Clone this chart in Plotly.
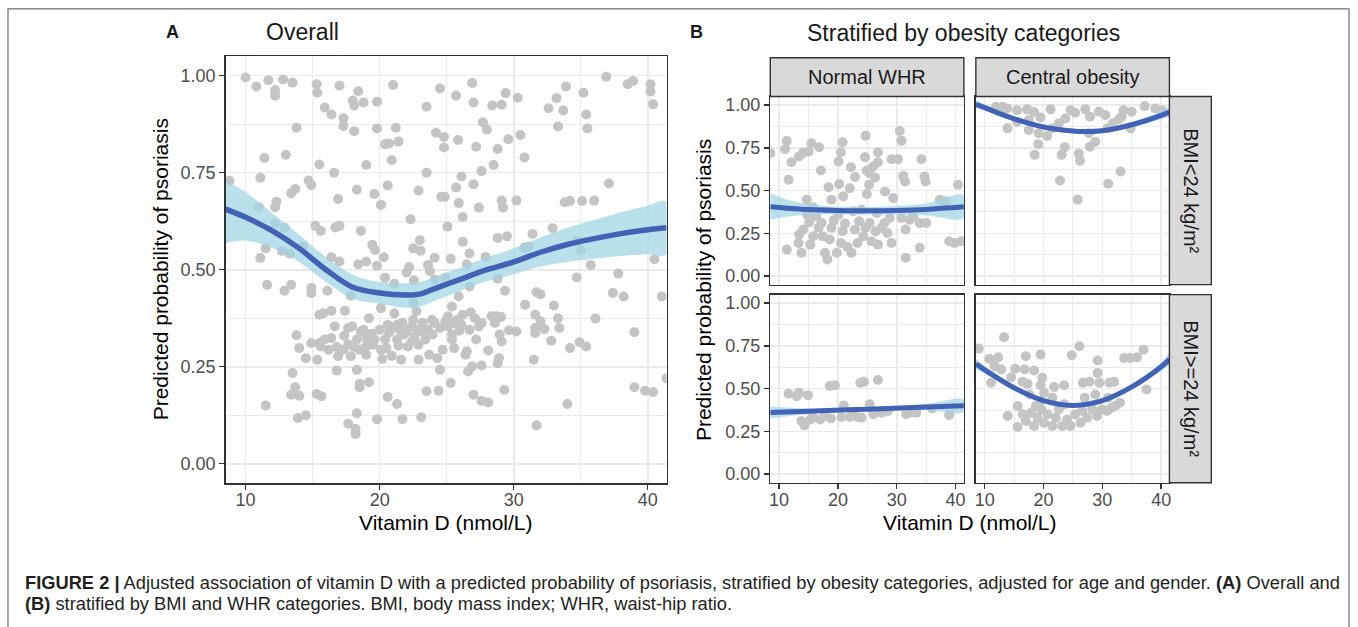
import plotly.graph_objects as go

# ---------------- DATA ----------------
# Panel A: overall (vitamin D nmol/L, predicted probability)
overall_points = [
    (10.0,0.995),(10.8,0.972),(11.7,0.988),(12.2,0.963),(12.2,0.948),(12.8,0.99),(13.5,0.982),(15.3,0.978),
    (15.35,0.956),(17.0,0.974),(18.4,0.96),(18.0,0.936),(18.1,0.923),(18.8,0.931),(19.8,0.933),(21.0,0.976),
    (15.9,0.918),(16.4,0.90),(17.3,0.89),(17.3,0.87),(18.1,0.857),(13.8,0.866),(19.8,0.864),(21.2,0.866),
    (20.4,0.823),(20.7,0.825),(21.4,0.83),(20.9,0.782),(23.5,0.92),(24.5,0.967),(25.7,0.949),(26.9,0.981),
    (27.0,0.931),(28.4,0.923),(29.1,0.925),(29.4,0.955),(30.3,0.943),(27.7,0.88),(28.0,0.861),(24.2,0.853),
    (24.8,0.842),(24.8,0.815),(25.85,0.834),(27.2,0.817),(28.8,0.811),(29.6,0.836),(30.5,0.847),(30.8,0.789),
    (32.6,0.916),(33.2,0.942),(33.7,0.91),(33.9,0.972),(33.3,0.869),(35.2,0.956),(35.4,0.90),(35.5,0.864),
    (36.9,0.997),(38.5,0.978),(38.9,0.986),(40.2,0.978),(40.2,0.959),(40.4,0.926),(11.4,0.788),(13.0,0.796),
    (11.1,0.737),(8.8,0.729),(15.5,0.771),(16.6,0.75),(19.0,0.77),(23.5,0.75),(28.5,0.77),(27.6,0.754),
    (26.1,0.74),(25.7,0.712),(27.0,0.72),(14.7,0.73),(14.9,0.718),(13.7,0.708),(13.4,0.697),(12.3,0.675),
    (12.2,0.661),(11.0,0.661),(16.9,0.682),(18.3,0.706),(19.6,0.695),(20.6,0.717),(20.1,0.667),(22.9,0.704),
    (24.6,0.688),(24.85,0.688),(25.9,0.672),(27.4,0.66),(26.2,0.636),(29.1,0.678),(29.2,0.66),(30.2,0.678),
    (33.8,0.674),(34.2,0.677),(35.1,0.677),(36.0,0.678),(37.1,0.722),(22.3,0.63),(15.2,0.613),(15.6,0.60),
    (12.2,0.62),(12.9,0.608),(16.7,0.609),(17.0,0.613),(18.6,0.60),(25.05,0.611),(28.8,0.582),(29.5,0.586),
    (31.4,0.592),(32.9,0.607),(11.5,0.555),(11.1,0.53),(12.7,0.548),(13.3,0.541),(14.3,0.56),(19.45,0.564),
    (19.65,0.551),(20.3,0.532),(22.5,0.555),(23.0,0.576),(23.05,0.549),(16.4,0.532),(17.0,0.521),(18.4,0.514),
    (19.0,0.521),(19.8,0.51),(22.2,0.507),(23.6,0.512),(24.1,0.531),(25.3,0.528),(26.2,0.572),(26.5,0.514),
    (26.7,0.542),(27.9,0.533),(30.8,0.557),(31.1,0.559),(34.75,0.574),(35.0,0.55),(35.75,0.512),(40.5,0.527),
    (11.6,0.461),(12.9,0.446),(13.4,0.461),(14.9,0.453),(14.9,0.44),(16.1,0.446),(17.85,0.433),(20.4,0.479),
    (21.1,0.464),(22.0,0.493),(22.55,0.473),(23.75,0.496),(24.1,0.474),(24.9,0.479),(25.9,0.431),(26.7,0.457),
    (28.8,0.477),(29.35,0.446),(20.1,0.401),(21.1,0.387),(22.5,0.414),(22.75,0.393),(19.2,0.375),(15.5,0.384),
    (15.8,0.388),(16.4,0.394),(17.4,0.394),(16.65,0.354),(17.95,0.354),(18.6,0.341),(13.8,0.331),(14.0,0.298),
    (14.5,0.272),(14.9,0.311),(15.35,0.268),(15.6,0.302),(15.9,0.32),(16.4,0.324),(16.8,0.301),(16.9,0.277),
    (17.35,0.33),(17.65,0.307),(17.85,0.277),(18.1,0.301),(18.5,0.294),(19.0,0.281),(19.1,0.315),(19.4,0.335),
    (19.5,0.307),(20.0,0.345),(20.2,0.27),(20.5,0.298),(20.7,0.338),(20.9,0.278),(21.3,0.32),(21.4,0.304),
    (21.6,0.268),(21.7,0.363),(21.8,0.333),(22.1,0.302),(22.4,0.354),(22.5,0.371),(22.9,0.268),(22.9,0.307),
    (23.1,0.341),(23.2,0.363),(23.6,0.345),(23.7,0.281),(23.95,0.333),(24.1,0.363),(24.3,0.272),(24.5,0.242),
    (24.7,0.294),(24.9,0.367),(25.1,0.354),(25.4,0.32),(25.4,0.405),(25.55,0.298),(25.8,0.371),(25.95,0.343),
    (26.2,0.384),(26.4,0.281),(26.5,0.29),(26.6,0.238),(26.8,0.39),(26.9,0.251),(27.2,0.32),(27.4,0.354),
    (27.6,0.253),(27.6,0.363),(28.1,0.292),(28.35,0.38),(28.6,0.363),(28.7,0.38),(28.95,0.333),(29.05,0.378),
    (28.9,0.272),(28.8,0.259),(29.1,0.315),(29.65,0.344),(30.2,0.341),(30.85,0.41),(31.6,0.384),(31.7,0.442),
    (32.0,0.437),(31.6,0.35),(31.6,0.337),(32.3,0.347),(32.0,0.367),(32.8,0.317),(33.0,0.408),(33.3,0.375),
    (33.4,0.35),(31.5,0.268),(34.2,0.298),(34.9,0.313),(35.4,0.302),(34.7,0.48),(36.1,0.374),(37.4,0.44),
    (37.8,0.49),(38.2,0.431),(39.0,0.339),(41.05,0.431),(13.5,0.234),(13.7,0.197),(13.4,0.178),(14.0,0.175),
    (11.5,0.15),(13.9,0.118),(14.5,0.125),(15.3,0.18),(15.65,0.174),(16.8,0.24),(18.3,0.242),(18.5,0.206),
    (18.5,0.197),(19.2,0.21),(18.3,0.13),(17.65,0.103),(18.2,0.09),(18.2,0.077),(19.8,0.115),(20.6,0.172),
    (21.3,0.154),(21.7,0.115),(23.1,0.12),(23.5,0.187),(24.4,0.188),(25.3,0.208),(27.0,0.178),(27.6,0.162),
    (28.1,0.158),(29.3,0.19),(31.7,0.099),(34.0,0.154),(39.0,0.197),(39.8,0.188),(40.4,0.185),(41.4,0.22),
    (17.65,0.35),(18.3,0.32),(18.8,0.345),(19.0,0.326),(19.6,0.321),(20.4,0.321),(21.0,0.35),(21.3,0.358),
    (22.0,0.341),(22.6,0.328),(23.4,0.32),(23.9,0.371),(24.5,0.35),(25.1,0.38),(25.6,0.363),(25.4,0.333),
    (26.1,0.358),(26.7,0.345),(27.1,0.375),(15.5,0.311),(16.2,0.294),(17.3,0.294),(18.9,0.298),(20.1,0.294),
    (20.6,0.358),(21.6,0.341),(22.8,0.345),(22.4,0.315),
]
overall_fit_x  = [8.5, 10, 12, 14, 16, 18, 20, 22, 23, 24, 26, 28, 30, 32, 34, 36, 38, 40, 41.4]
overall_fit    = [.656, .635, .60, .555, .50, .455, .44, .435, .437, .45, .475, .50, .52, .545, .565, .58, .593, .603, .608]
overall_lo     = [.568, .575, .556, .52, .468, .425, .412, .402, .405, .418, .445, .47, .488, .508, .52, .528, .535, .54, .54]
overall_hi     = [.73, .70, .645, .59, .532, .487, .468, .465, .468, .48, .505, .532, .555, .583, .608, .628, .648, .665, .675]

# Panel B: Normal WHR, BMI<24
nw_lowbmi_points = [
    (11.3,0.79),(11.0,0.742),(12.1,0.666),(13.4,0.70),(14.1,0.722),(15.0,0.728),(15.5,0.777),(16.8,0.753),
    (11.6,0.563),(17.1,0.617),(20.8,0.783),(20.5,0.724),(20.1,0.67),(22.2,0.637),(22.9,0.579),(24.7,0.82),
    (24.6,0.695),(20.2,0.538),(18.4,0.52),(22.0,0.513),(20.9,0.466),(18.9,0.447),(24.9,0.617),(25.4,0.602),
    (26.0,0.641),(26.8,0.666),(26.8,0.724),(26.3,0.577),(25.3,0.534),(24.9,0.48),(28.0,0.495),(29.4,0.456),
    (29.1,0.683),(30.2,0.683),(30.5,0.849),(30.8,0.792),(34.2,0.683),(31.1,0.586),(31.4,0.553),(34.7,0.583),
    (34.9,0.553),(37.3,0.447),(38.3,0.437),(40.4,0.534),(14.7,0.447),(15.8,0.402),(11.3,0.155),(13.4,0.243),
    (13.3,0.194),(13.8,0.136),(15.3,0.184),(14.1,0.272),(15.1,0.315),(16.3,0.35),(16.7,0.282),(17.4,0.233),
    (17.8,0.136),(18.2,0.097),(18.6,0.214),(18.9,0.282),(19.3,0.326),(19.8,0.136),(20.5,0.194),(20.8,0.262),
    (21.2,0.307),(21.6,0.171),(22.3,0.136),(22.9,0.272),(23.3,0.194),(23.6,0.32),(24.3,0.233),(24.7,0.282),
    (25.4,0.311),(25.7,0.204),(26.4,0.262),(26.8,0.184),(27.4,0.282),(27.9,0.311),(28.4,0.252),(29.1,0.194),
    (31.5,0.272),(31.5,0.107),(32.2,0.33),(33.9,0.311),(33.9,0.165),(35.0,0.311),(38.9,0.204),(39.8,0.194),
    (41.0,0.204),(14.8,0.359),(22.6,0.379),(28.8,0.34),(30.8,0.34),(32.8,0.35),(20.1,0.359),(17.2,0.311),
    (15.8,0.233),(24.0,0.388),(26.6,0.369),(8.5,0.718),
]
nw_lowbmi_fit_x = [8.5, 12, 16, 20, 25, 30, 35, 41.4]
nw_lowbmi_fit   = [0.405, 0.395, 0.388, 0.384, 0.382, 0.384, 0.39, 0.405]
nw_lowbmi_lo    = [0.33, 0.35, 0.36, 0.362, 0.36, 0.358, 0.355, 0.34]
nw_lowbmi_hi    = [0.485, 0.44, 0.416, 0.406, 0.404, 0.41, 0.425, 0.472]

# Panel B: Central obesity, BMI<24
co_lowbmi_points = [
    (11.9,0.99),(13.0,0.99),(13.8,0.98),(15.5,0.97),(17.2,0.975),(18.4,0.96),(19.5,0.928),(21.2,0.975),
    (23.7,0.922),(24.6,0.97),(25.4,0.955),(27.1,0.975),(27.9,0.932),(29.4,0.961),(30.5,0.942),(32.8,0.917),
    (33.6,0.97),(35.0,0.961),(37.2,0.994),(39.0,0.98),(40.1,0.97),(13.9,0.864),(15.5,0.903),(17.5,0.854),
    (19.2,0.835),(20.6,0.819),(21.5,0.864),(19.1,0.771),(18.5,0.709),(23.1,0.709),(23.6,0.753),(26.0,0.715),
    (26.2,0.674),(27.9,0.757),(28.8,0.786),(30.9,0.864),(31.8,0.893),(34.8,0.864),(22.8,0.559),(25.8,0.447),
    (31.0,0.54),(33.1,0.612),(27.7,0.835),(22.6,0.893),(17.5,0.913),(33.3,0.932),
]
co_lowbmi_fit_x = [8.5, 10, 15, 20, 25, 27, 30, 35, 40, 41.4]
co_lowbmi_fit   = [1.005, 0.985, 0.92, 0.872, 0.848, 0.845, 0.85, 0.885, 0.94, 0.96]
co_lowbmi_lo    = [0.98, 0.967, 0.905, 0.858, 0.835, 0.832, 0.836, 0.868, 0.918, 0.935]
co_lowbmi_hi    = [1.03, 1.003, 0.935, 0.886, 0.861, 0.858, 0.864, 0.902, 0.962, 0.985]

# Panel B: Normal WHR, BMI>=24
nw_highbmi_points = [
    (11.6,0.47),(13.0,0.456),(13.4,0.476),(14.9,0.462),(18.6,0.515),(19.5,0.52),(23.8,0.534),(24.4,0.54),
    (26.8,0.55),(13.8,0.311),(14.3,0.285),(15.3,0.32),(17.0,0.32),(18.8,0.326),(20.6,0.334),(21.0,0.402),
    (22.0,0.334),(23.3,0.334),(24.0,0.33),(25.4,0.408),(26.0,0.35),(27.4,0.359),(28.5,0.369),(31.6,0.35),
    (32.2,0.359),(33.3,0.359),(36.0,0.384),(38.9,0.345),(15.8,0.33),(17.8,0.34),(22.6,0.35),
]
nw_highbmi_fit_x = [8.5, 15, 25, 35, 41.4]
nw_highbmi_fit   = [0.36, 0.368, 0.38, 0.392, 0.40]
nw_highbmi_lo    = [0.325, 0.352, 0.37, 0.375, 0.365]
nw_highbmi_hi    = [0.395, 0.384, 0.39, 0.41, 0.435]

# Panel B: Central obesity, BMI>=24
co_highbmi_points = [
    (9.0,0.734),(13.3,0.80),(10.8,0.674),(12.3,0.683),(11.7,0.631),(12.8,0.612),(11.1,0.534),(14.5,0.567),
    (15.2,0.617),(16.8,0.612),(17.0,0.689),(16.4,0.54),(17.3,0.528),(18.4,0.606),(19.5,0.699),(19.8,0.563),
    (19.5,0.52),(20.1,0.476),(21.8,0.509),(23.5,0.52),(24.8,0.695),(26.1,0.748),(26.7,0.534),(27.8,0.54),
    (29.2,0.664),(29.2,0.592),(29.5,0.534),(31.2,0.534),(32.0,0.54),(33.7,0.679),(34.7,0.679),(35.9,0.683),
    (37.0,0.728),(37.5,0.495),(13.9,0.34),(15.6,0.398),(15.6,0.276),(16.5,0.35),(17.0,0.311),(17.9,0.359),
    (18.4,0.282),(19.0,0.33),(19.6,0.379),(20.1,0.301),(20.7,0.35),(21.5,0.282),(22.1,0.33),(22.6,0.379),
    (23.2,0.282),(24.0,0.32),(24.6,0.282),(25.4,0.35),(26.3,0.301),(26.6,0.369),(27.4,0.33),(28.3,0.379),
    (29.1,0.34),(29.9,0.379),(30.8,0.369),(31.6,0.388),(32.2,0.398),(33.0,0.417),(21.5,0.447),(23.5,0.408),
    (27.0,0.447),(18.7,0.398),(17.6,0.466),(19.5,0.427),(28.8,0.466),(31.0,0.447),
]
co_highbmi_fit_x = [8.5, 10, 15, 20, 25, 30, 35, 40, 41.4]
co_highbmi_fit   = [0.645, 0.61, 0.505, 0.43, 0.402, 0.43, 0.51, 0.628, 0.672]
co_highbmi_lo    = [0.615, 0.588, 0.488, 0.414, 0.388, 0.415, 0.493, 0.605, 0.642]
co_highbmi_hi    = [0.675, 0.632, 0.522, 0.446, 0.416, 0.445, 0.527, 0.651, 0.702]

x_range = [8.5, 41.4]
y_range = [-0.05, 1.05]
col_labels = ["Normal WHR", "Central obesity"]
row_labels = ["BMI&lt;24 kg/m²", "BMI&gt;=24 kg/m²"]

# ---------------- STYLE / LAYOUT ----------------
W, H = 1358, 627
FONT = "Liberation Sans, Arial, Helvetica, sans-serif"
PT_COLOR = "#C4C4C4"
LINE_COLOR = "#4262B6"
BAND_COLOR = "rgba(160,212,228,0.72)"
GRID = "#EBEBEB"
BORDER = "#333333"

def px(x):
    return x / W

def py(y):
    return 1 - y / H

# panel pixel boxes (left, right, top, bottom)
panels = {
    "A":  (225, 667, 55.5, 484.5),
    "TL": (771, 965, 96, 285),
    "TR": (977, 1171, 96, 285),
    "BL": (771, 965, 295, 484),
    "BR": (977, 1171, 295, 484),
}

fig = go.Figure()

def add_panel(idx, points, fx, fit, lo, hi, line_w, msize):
    xs = [p[0] for p in points]
    ys = [p[1] for p in points]
    xa = "x" if idx == 1 else f"x{idx}"
    ya = "y" if idx == 1 else f"y{idx}"
    fig.add_trace(go.Scatter(x=xs, y=ys, mode="markers", xaxis=xa, yaxis=ya,
                             marker=dict(size=msize, color=PT_COLOR), showlegend=False, hoverinfo="skip"))
    fig.add_trace(go.Scatter(x=list(fx) + list(fx)[::-1], y=list(hi) + list(lo)[::-1], xaxis=xa, yaxis=ya,
                             fill="toself", fillcolor=BAND_COLOR, line=dict(width=0, shape="spline"),
                             mode="lines", showlegend=False, hoverinfo="skip"))
    fig.add_trace(go.Scatter(x=fx, y=fit, xaxis=xa, yaxis=ya, mode="lines",
                             line=dict(color=LINE_COLOR, width=line_w, shape="spline", smoothing=1.0),
                             showlegend=False, hoverinfo="skip"))

add_panel(1, overall_points, overall_fit_x, overall_fit, overall_lo, overall_hi, 5.5, 10)
add_panel(2, nw_lowbmi_points, nw_lowbmi_fit_x, nw_lowbmi_fit, nw_lowbmi_lo, nw_lowbmi_hi, 5, 10)
add_panel(3, co_lowbmi_points, co_lowbmi_fit_x, co_lowbmi_fit, co_lowbmi_lo, co_lowbmi_hi, 5, 10)
add_panel(4, nw_highbmi_points, nw_highbmi_fit_x, nw_highbmi_fit, nw_highbmi_lo, nw_highbmi_hi, 5, 10)
add_panel(5, co_highbmi_points, co_highbmi_fit_x, co_highbmi_fit, co_highbmi_lo, co_highbmi_hi, 5, 10)

tickfont = dict(family=FONT, size=18, color="#4D4D4D")

def xaxis(box, anchor, labels):
    l, r, t, b = box
    return dict(domain=[px(l), px(r)], anchor=anchor, range=x_range, tickmode="linear", tick0=0, dtick=10,
                showgrid=True, gridcolor=GRID, gridwidth=1.6,
                minor=dict(tickmode="linear", tick0=0, dtick=5, showgrid=True, gridcolor=GRID, gridwidth=1),
                showline=True, mirror=True, linecolor=BORDER, linewidth=1.4, zeroline=False,
                ticks="outside" if labels else "", ticklen=5, tickwidth=1.4, tickcolor=BORDER,
                ticklabelstandoff=-5,
                showticklabels=labels, tickfont=tickfont, fixedrange=True)

def yaxis(box, anchor, labels):
    l, r, t, b = box
    return dict(domain=[py(b), py(t)], anchor=anchor, range=y_range, tickmode="linear", tick0=0, dtick=0.25,
                tickformat=".2f",
                showgrid=True, gridcolor=GRID, gridwidth=1.6,
                minor=dict(tickmode="linear", tick0=0, dtick=0.125, showgrid=True, gridcolor=GRID, gridwidth=1),
                showline=True, mirror=True, linecolor=BORDER, linewidth=1.4, zeroline=False,
                ticks="outside" if labels else "", ticklen=5, tickwidth=1.4, tickcolor=BORDER,
                showticklabels=labels, tickfont=tickfont, fixedrange=True)

fig.update_layout(
    width=W, height=H, margin=dict(l=0, r=0, t=0, b=0),
    paper_bgcolor="white", plot_bgcolor="white",
    font=dict(family=FONT, color="#1A1A1A"),
    xaxis=xaxis(panels["A"], "y", True), yaxis=yaxis(panels["A"], "x", True),
    xaxis2=xaxis(panels["TL"], "y2", False), yaxis2=yaxis(panels["TL"], "x2", True),
    xaxis3=xaxis(panels["TR"], "y3", False), yaxis3=yaxis(panels["TR"], "x3", False),
    xaxis4=xaxis(panels["BL"], "y4", True), yaxis4=yaxis(panels["BL"], "x4", True),
    xaxis5=xaxis(panels["BR"], "y5", True), yaxis5=yaxis(panels["BR"], "x5", False),
)

shapes = []
# outer figure frame
shapes.append(dict(type="rect", xref="paper", yref="paper", x0=px(7), x1=px(1351), y0=-0.02, y1=py(8),
                   line=dict(color="#6E6E6E", width=1.2), fillcolor="rgba(0,0,0,0)", layer="above"))
# strips
strip_style = dict(type="rect", xref="paper", yref="paper", fillcolor="#D9D9D9",
                   line=dict(color=BORDER, width=1.4), layer="above")
shapes.append(dict(strip_style, x0=px(771), x1=px(965), y0=py(96), y1=py(57)))
shapes.append(dict(strip_style, x0=px(977), x1=px(1171), y0=py(96), y1=py(57)))
shapes.append(dict(strip_style, x0=px(1171), x1=px(1213), y0=py(285), y1=py(96)))
shapes.append(dict(strip_style, x0=px(1171), x1=px(1213), y0=py(484), y1=py(295)))
fig.update_layout(shapes=shapes)

ann = []
def note(text, x, y, size, xanchor="center", angle=0, color="#1A1A1A"):
    ann.append(dict(text=text, x=px(x), y=py(y), xref="paper", yref="paper", showarrow=False,
                    xanchor=xanchor, yanchor="middle", textangle=angle,
                    font=dict(family=FONT, size=size, color=color)))

# panel labels and titles
note("<b>A</b>", 172, 31, 18, "center")
note("Overall", 264, 31, 23, "left")
note("<b>B</b>", 697, 31, 18, "center")
note("Stratified by obesity categories", 806, 32, 23, "left")
# strip labels
note(col_labels[0], 868, 76.5, 20)
note(col_labels[1], 1074, 76.5, 20)
note(row_labels[0], 1193, 190.5, 20, angle=90)
note(row_labels[1], 1193, 389.5, 20, angle=90)
# axis titles
note("Predicted probability of psoriasis", 160, 270, 21, angle=-90, color="#000000")
note("Vitamin D (nmol/L)", 446, 524, 21, color="#000000")
note("Predicted probability of psoriasis", 704, 290, 21, angle=-90, color="#000000")
note("Vitamin D (nmol/L)", 971, 524, 21, color="#000000")
# caption
note("<b>FIGURE 2 |</b> Adjusted association of vitamin D with a predicted probability of psoriasis, stratified by "
     "obesity categories, adjusted for age and gender. <b>(A)</b> Overall and", 22, 584, 18.3, "left", color="#231F20")
note("<b>(B)</b> stratified by BMI and WHR categories. BMI, body mass index; WHR, waist-hip ratio.",
     22, 605, 18.3, "left", color="#231F20")
fig.update_layout(annotations=ann)

fig.write_html("out.html", config={"displayModeBar": False, "staticPlot": True},
               post_script="document.body.style.margin='0';document.body.style.overflow='hidden';")
